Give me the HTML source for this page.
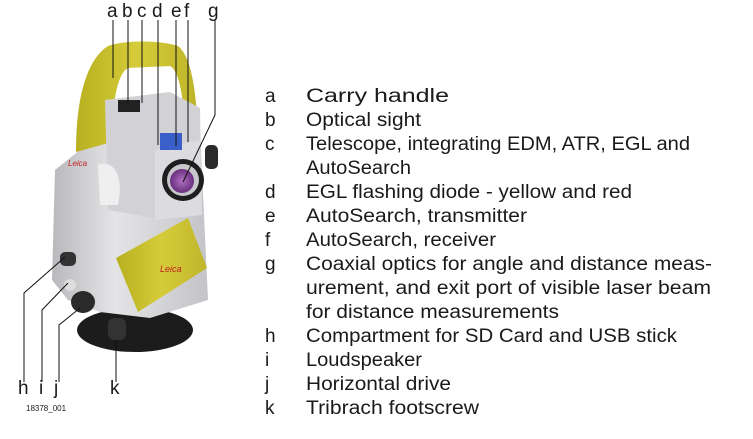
<!DOCTYPE html>
<html><head><meta charset="utf-8"><style>
html,body{margin:0;padding:0;background:#fff;}
svg{display:block;}
text{font-family:"Liberation Sans",sans-serif;fill:#1a1a1a;}
</style></head><body>
<svg width="753" height="439" viewBox="0 0 753 439" xmlns="http://www.w3.org/2000/svg">
<defs>
<linearGradient id="gb" x1="0" x2="1"><stop offset="0" stop-color="#b9b9bd"/><stop offset="0.4" stop-color="#e4e4e6"/><stop offset="1" stop-color="#c4c4c8"/></linearGradient>
<linearGradient id="gy" x1="0" x2="1"><stop offset="0" stop-color="#b8b020"/><stop offset="0.5" stop-color="#d6cc3a"/><stop offset="1" stop-color="#bfb52a"/></linearGradient>
<radialGradient id="gl"><stop offset="0" stop-color="#b070c0"/><stop offset="1" stop-color="#6a2f80"/></radialGradient>
</defs>
<ellipse cx="135" cy="330" rx="58" ry="22" fill="#1c1c1c"/>
<rect x="108" y="318" width="18" height="22" rx="6" fill="#333"/>
<path d="M80 150 L108 140 L200 130 L208 300 L150 318 L100 312 L68 300 L52 280 L55 170 Z" fill="url(#gb)"/>
<path d="M76 152 C76 100 86 60 108 46 C125 40 160 40 178 46 C190 55 195 85 197 115 L184 114 C182 90 178 70 170 66 L128 68 C116 74 112 110 112 142 Z" fill="url(#gy)"/>
<path d="M105 100 L170 92 L200 108 L202 215 L155 218 L108 210 Z" fill="#d2d2d6"/>
<path d="M155 150 L200 140 L202 215 L155 220 Z" fill="#dcdce0"/>
<rect x="118" y="100" width="22" height="12" fill="#222"/>
<rect x="160" y="133" width="22" height="17" fill="#3a5fc8"/>
<path d="M98 165 C110 160 125 170 118 205 L100 205 Z" fill="#efefef"/>
<rect x="205" y="145" width="13" height="24" rx="5" fill="#2a2a2a"/>
<circle cx="183" cy="180" r="21" fill="#1e1e1e"/>
<circle cx="183" cy="180" r="16" fill="#c8c8cc"/>
<circle cx="182" cy="181" r="12" fill="url(#gl)"/>
<path d="M116 258 L188 218 L207 268 L138 312 Z" fill="url(#gy)"/>
<text x="160" y="272" font-size="9" style="fill:#c02020;font-style:italic">Leica</text>
<text x="68" y="166" font-size="8" style="fill:#c02020;font-style:italic">Leica</text>
<rect x="60" y="252" width="16" height="14" rx="5" fill="#333"/>
<circle cx="70" cy="285" r="6" fill="#ddd"/>
<ellipse cx="83" cy="302" rx="12" ry="11" fill="#2a2a2a"/>
<g stroke="#111" stroke-width="1" fill="none">
<path d="M113 20 V78"/><path d="M128 20 V106"/><path d="M142 20 V103"/>
<path d="M158 20 V145"/><path d="M176 20 V146"/><path d="M188 20 V142"/>
<path d="M215 20 V115 L183 182"/>
<path d="M24 382 V293 L65 257"/><path d="M42 382 V310 L68 283"/><path d="M59 382 V325 L80 308"/>
<path d="M116 382 V340"/>
</g>
<g font-size="19">
<text x="107" y="17">a</text><text x="122" y="17">b</text><text x="137" y="17">c</text><text x="152" y="17">d</text><text x="171" y="17">e</text><text x="184" y="17">f</text><text x="208" y="17">g</text>
<text x="18" y="394">h</text><text x="39" y="394">i</text><text x="54" y="394">j</text><text x="110" y="394">k</text>
</g>
<text x="26" y="411" font-size="8">18378_001</text>
<g font-size="19">
<text x="265" y="102">a</text><text x="306" y="102" textLength="143" lengthAdjust="spacingAndGlyphs">Carry handle</text>
<text x="265" y="126">b</text><text x="306" y="126" textLength="115" lengthAdjust="spacingAndGlyphs">Optical sight</text>
<text x="265" y="150">c</text><text x="306" y="150" textLength="384" lengthAdjust="spacingAndGlyphs">Telescope, integrating EDM, ATR, EGL and</text>
<text x="306" y="174" textLength="105" lengthAdjust="spacingAndGlyphs">AutoSearch</text>
<text x="265" y="198">d</text><text x="306" y="198" textLength="326" lengthAdjust="spacingAndGlyphs">EGL flashing diode - yellow and red</text>
<text x="265" y="222">e</text><text x="306" y="222" textLength="221" lengthAdjust="spacingAndGlyphs">AutoSearch, transmitter</text>
<text x="265" y="246">f</text><text x="306" y="246" textLength="190" lengthAdjust="spacingAndGlyphs">AutoSearch, receiver</text>
<text x="265" y="270">g</text><text x="306" y="270" textLength="406" lengthAdjust="spacingAndGlyphs">Coaxial optics for angle and distance meas-</text>
<text x="306" y="294" textLength="405" lengthAdjust="spacingAndGlyphs">urement, and exit port of visible laser beam</text>
<text x="306" y="318" textLength="253" lengthAdjust="spacingAndGlyphs">for distance measurements</text>
<text x="265" y="342">h</text><text x="306" y="342" textLength="371" lengthAdjust="spacingAndGlyphs">Compartment for SD Card and USB stick</text>
<text x="265" y="366">i</text><text x="306" y="366" textLength="116" lengthAdjust="spacingAndGlyphs">Loudspeaker</text>
<text x="265" y="390">j</text><text x="306" y="390" textLength="145" lengthAdjust="spacingAndGlyphs">Horizontal drive</text>
<text x="265" y="414">k</text><text x="306" y="414" textLength="173" lengthAdjust="spacingAndGlyphs">Tribrach footscrew</text>
</g>
</svg>
</body></html>
